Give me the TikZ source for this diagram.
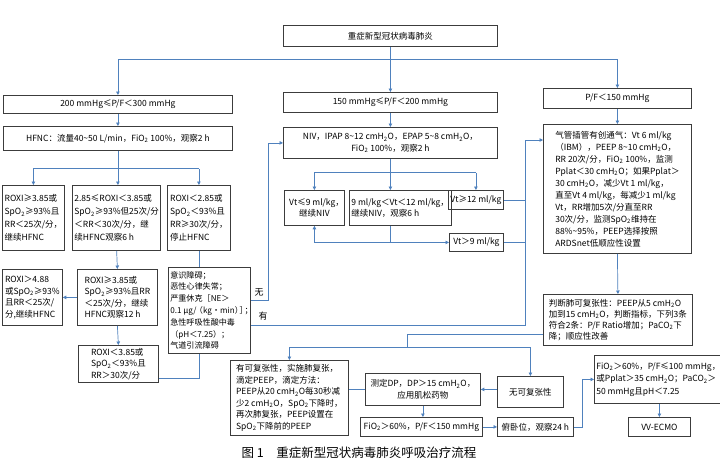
\documentclass[tikz,border=0pt]{standalone}
\usepackage{fontspec}
\setmainfont{Noto Sans CJK SC}
\usetikzlibrary{arrows.meta}
\definecolor{flowblue}{RGB}{79,129,189}
\definecolor{boxgray}{RGB}{60,60,60}
\newcommand{\lotwo}{\textsubscript{2}}

\begin{document}
\begin{tikzpicture}[x=1pt,y=-1pt,
  box/.style={draw=boxgray, line width=0.8pt, anchor=north west, inner sep=2pt,
    align=left, font=\fontsize{8.5}{11.5}\selectfont},
  line/.style={draw=flowblue, line width=0.7pt},
  arrow/.style={line, -{Triangle[length=3.5pt,width=3.5pt]}},
  tag/.style={font=\fontsize{9}{11}\selectfont}]
  \useasboundingbox (0,0) rectangle (720,469);

  % Top box and the three P/F branches
  \node[box, minimum width=214, minimum height=21, align=center] (title) at (283,25) {重症新型冠状病毒肺炎};
  \node[box, minimum width=229, minimum height=18] (pfhigh) at (3,95) {200 mmHg≤P/F＜300 mmHg};
  \node[box, minimum width=214, minimum height=20] (pfmid) at (283,92) {150 mmHg≤P/F＜200 mmHg};
  \node[box, minimum width=148, minimum height=20] (pflow) at (543,88) {P/F＜150 mmHg};
  \coordinate (split) at (0,59);

  % Left column: HFNC
  \node[box, minimum width=229, minimum height=24] (hfnc) at (3,126) {HFNC：流量40\textasciitilde50 L/min，FiO\lotwo{} 100\%，观察2 h};
  \node[box, minimum width=62, minimum height=65, font=\fontsize{8.5}{13}\selectfont] (roxiok) at (2,185)
    {ROXI≥3.85或\\SpO\lotwo{}≥93\%且\\RR＜25次/分，\\继续HFNC};
  \node[box, minimum width=88, minimum height=65, font=\fontsize{8.5}{13}\selectfont] (roxiwait) at (72,185)
    {2.85≤ROXI＜3.85或\\SpO\lotwo{}≥93\%但25次/分\\＜RR＜30次/分，继\\续HFNC观察6 h};
  \node[box, minimum width=63, minimum height=65, font=\fontsize{8.5}{13}\selectfont] (roxistop) at (167,185)
    {ROXI＜2.85或\\SpO\lotwo{}＜93\%且\\RR≥30次/分，\\停止HFNC};
  \node[box, minimum width=60, minimum height=56] (roxigood) at (2,269)
    {ROXI＞4.88\\或SpO\lotwo{}≥93\%\\且RR＜25次/\\分,继续HFNC};
  \node[box, minimum width=80, minimum height=56] (roxitwelve) at (77,269)
    {ROXI≥3.85或\\SpO\lotwo{}≥93\%且RR\\＜25次/分，继续\\HFNC观察12 h};
  \node[box, minimum width=80, minimum height=37] (roxibad) at (78,345)
    {ROXI＜3.85或\\SpO\lotwo{}＜93\%且\\RR＞30次/分};
  \node[box, minimum width=82, minimum height=86, inner xsep=1.5pt, font=\fontsize{8.1}{11.8}\selectfont] (contra) at (168,267)
    {意识障碍；\\恶性心律失常；\\严重休克［NE＞\\0.1 μg/\kern-.2em（kg•min）\kern-.4em］\kern-.4em；\kern-.5em\\急性呼吸性酸中毒\\（pH＜7.25）；\\气道引流障碍};

  % Middle column: NIV
  \node[box, minimum width=214, minimum height=31, align=center] (niv) at (283,127)
    {NIV，IPAP 8\textasciitilde12 cmH\lotwo{}O，EPAP 5\textasciitilde8 cmH\lotwo{}O，\\FiO\lotwo{} 100\%，观察2 h};
  \node[box, minimum width=60, minimum height=35, align=center, inner xsep=1pt] (vtsmall) at (284,190) {Vt≤9 ml/kg，\kern-.5em\\继续NIV};
  \node[box, minimum width=94, minimum height=35] (vtwait) at (349,190) {9 ml/kg＜Vt＜12 ml/kg，\\继续NIV，观察6 h};
  \node[box, minimum width=55, minimum height=19, inner xsep=1pt] (vtbig) at (448,190) {Vt≥12 ml/kg};
  \node[box, minimum width=54, minimum height=18, inner xsep=1pt] (vtover) at (449,233) {Vt＞9 ml/kg};
  \coordinate (rail) at (525,0);

  % Right column: intubation
  \node[box, minimum width=148, minimum height=129, font=\fontsize{8.5}{12}\selectfont] (intub) at (543,124)
    {气管插管有创通气：Vt 6 ml/kg\\（IBM），PEEP 8\textasciitilde10 cmH\lotwo{}O，\\RR 20次/分，FiO\lotwo{} 100\%，监测\\Pplat＜30 cmH\lotwo{}O；如果Pplat＞\\30 cmH\lotwo{}O，减少Vt 1 ml/kg，\\直至Vt 4 ml/kg，每减少1 ml/kg\\Vt，RR增加5次/分直至RR\\30次/分，监测SpO\lotwo{}维持在\\88\%\textasciitilde95\%，PEEP选择按照\\ARDSnet低顺应性设置};
  \node[box, minimum width=149, minimum height=51, font=\fontsize{8.5}{11}\selectfont] (judge) at (543,294)
    {判断肺可复张性：PEEP从5 cmH\lotwo{}O\\加到15 cmH\lotwo{}O，判断指标，下列3条\\符合2条：P/F Ratio增加；PaCO\lotwo{}下\\降；顺应性改善};

  % Bottom row
  \node[box, minimum width=118, minimum height=75] (recruit) at (230,360)
    {有可复张性，实施肺复张，\\滴定PEEP，滴定方法：\\PEEP从20 cmH\lotwo{}O每30秒减\\少2 cmH\lotwo{}O，SpO\lotwo{}下降时，\\再次肺复张，PEEP设置在\\SpO\lotwo{}下降前的PEEP};
  \node[box, minimum width=115, minimum height=32, align=center] (dp) at (365,373) {测定DP，DP＞15 cmH\lotwo{}O，\\应用肌松药物};
  \node[box, minimum width=66, minimum height=31] (norecruit) at (497,376) {无可复张性};
  \node[box, minimum width=122, minimum height=19] (fio) at (360,417) {FiO\lotwo{}＞60\%，P/F＜150 mmHg};
  \node[box, minimum width=76, minimum height=19] (prone) at (497,417) {俯卧位，观察24 h};
  \node[box, minimum width=122, minimum height=48, font=\fontsize{8.5}{12.5}\selectfont] (ecmocheck) at (594,355)
    {FiO\lotwo{}＞60\%，P/F≤100 mmHg，\\或Pplat＞35 cmH\lotwo{}O；PaCO\lotwo{}＞\\50 mmHg且pH＜7.25};
  \node[box, minimum width=62, minimum height=19, align=center] (ecmo) at (628,417) {VV-ECMO};
  \coordinate (recsplit) at (407,347);

  % Connectors
  \draw[arrow] (title.south) -- (pfmid.north);
  \draw[line] (pfhigh.north |- split) -- (pflow.north |- split);
  \draw[arrow] (pfhigh.north |- split) -- (pfhigh.north);
  \draw[arrow] (pflow.north |- split) -- (pflow.north);

  \draw[arrow] (pfhigh.south) -- (hfnc.north);
  \draw[line] (hfnc.south) -- ++(0,18) coordinate (hsplit);
  \draw[line] (roxiok.north |- hsplit) -- (roxistop.north |- hsplit);
  \draw[arrow] (roxiok.north |- hsplit) -- (roxiok.north);
  \draw[arrow] (hsplit) -- (hsplit |- roxiwait.north);
  \draw[arrow] (roxistop.north |- hsplit) -- (roxistop.north);
  \draw[arrow] (roxiwait.south) -- (roxitwelve.north);
  \draw[arrow] (roxitwelve.west) -- (roxigood.east);
  \draw[arrow] (roxitwelve.south) -- (roxibad.north);
  \draw[line] (roxistop.south) -- (roxistop.south |- contra.north);
  \draw[line] ([yshift=-14pt]roxibad.east) -| (roxistop.south |- contra.south);

  \draw[arrow] ([yshift=10pt]contra.east) -- ++(18,0) |- (niv.west);
  \node[tag] (nolabel) at (259,292) {无};
  \draw[arrow] ([yshift=-15pt]contra.east) -| ([yshift=-16pt, xshift=-18pt]intub.north west) -- ([yshift=-16pt]intub.north west);
  \node[tag] (yeslabel) at (263,316) {有};

  \draw[arrow] (pfmid.south) -- (niv.north);
  \draw[line] (niv.south) -- ++(0,14) coordinate (nsplit);
  \draw[line] (vtsmall.north |- nsplit) -- (vtbig.north |- nsplit);
  \draw[arrow] (vtsmall.north |- nsplit) -- (vtsmall.north);
  \draw[arrow] (nsplit) -- (nsplit |- vtwait.north);
  \draw[arrow] (vtbig.north |- nsplit) -- (vtbig.north);
  \draw[arrow] (niv.south |- vtwait.south) |- (vtover.west);
  \draw[arrow] (niv.south |- vtover.west) -| (vtsmall.south);
  \draw[line] (vtbig.east) -- (vtbig.east -| rail);
  \draw[line] (vtover.east) -- (vtover.east -| rail);

  \draw[arrow] (pflow.south) -- (intub.north);
  \draw[arrow] (intub.south) -- (judge.north);
  \draw[line] ([yshift=-14.5pt]judge.west) -| (recsplit);
  \draw[arrow] (recsplit) -| (recruit.north);
  \draw[arrow] (recsplit) -| (norecruit.north);
  \draw[arrow] (dp.east -| norecruit.west) -- (dp.east);
  \draw[line] (dp.west) -- (dp.west -| recruit.east);
  \draw[arrow] (dp.south) -- (dp.south |- fio.north);
  \draw[arrow] (fio.east) -- (prone.west);
  \draw[arrow] (prone.east) -- ++(9,0) |- (ecmocheck.west);
  \draw[arrow] (ecmo.north |- ecmocheck.south) -- (ecmo.north);

  % Caption
  \node[font=\fontsize{12.5}{14}\selectfont] (caption) at (359,453) {图 1\quad 重症新型冠状病毒肺炎呼吸治疗流程};
\end{tikzpicture}
\end{document}
